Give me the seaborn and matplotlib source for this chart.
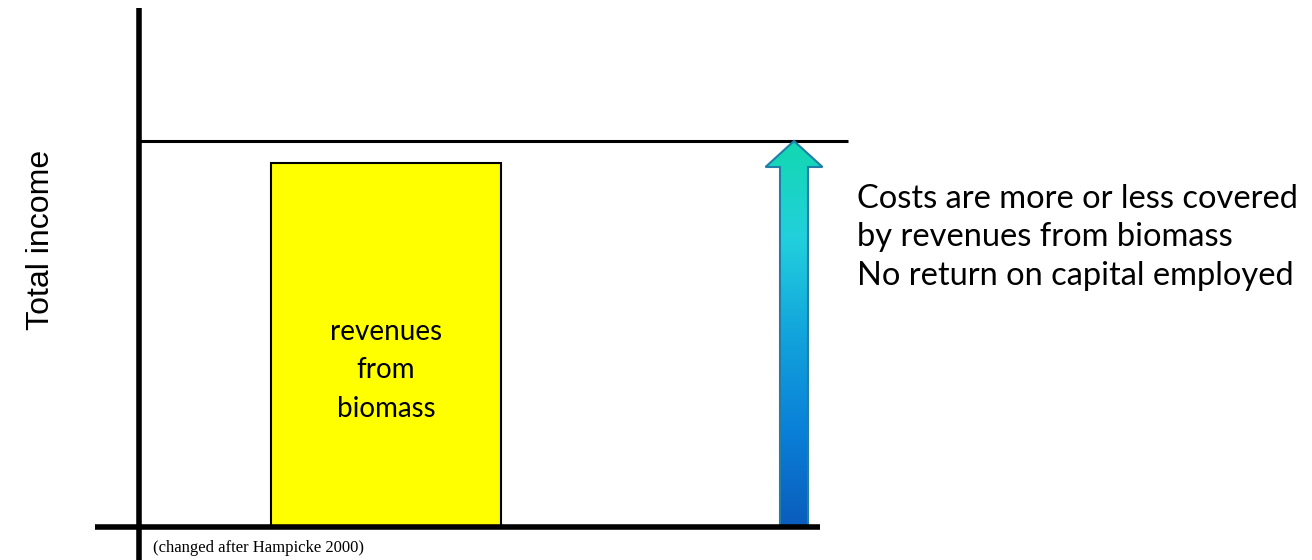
import numpy as np
import matplotlib
matplotlib.use("Agg")
import matplotlib.pyplot as plt
from matplotlib.colors import LinearSegmentedColormap
from matplotlib.patches import Polygon
import seaborn as sns

# data (income levels, baseline = 0, total costs level = 1)
bar_labels = ["revenues\nfrom\nbiomass"]
bar_x = [386]
bar_values = [0.943]
cost_level = 1.0
arrow_x = 794
arrow_value = 1.0
y_label = "Total income"
note_lines = ["Costs are more or less covered",
              "by revenues from biomass",
              "No return on capital employed"]
source = "(changed after Hampicke 2000)"

sns.set_theme(style="white")

fig = plt.figure(figsize=(13.12, 5.6), dpi=100)
ax = fig.add_axes([0, 0, 1, 1])
# pixel-like x, income y (0 at the base line, 1 at the cost line)
ax.set_xlim(0, 1312)
ax.set_ylim(-33 / 386, 527 / 386)
ax.axis("off")

# bar
sns.barplot(x=bar_x, y=bar_values, native_scale=True, width=230,
            color="#ffff00", saturation=1, edgecolor="black", linewidth=1.5,
            ax=ax)
for x, v, lab in zip(bar_x, bar_values, bar_labels):
    ax.text(x, v * 0.43, lab, ha="center", va="center", fontsize=20,
            family="Lato", linespacing=1.58, color="black")

# axes lines
ax.plot([138.5, 138.5], [-0.09, 1.345], color="black", lw=4, solid_capstyle="butt")
ax.plot([95, 820], [0, 0], color="black", lw=4, solid_capstyle="butt", zorder=5)
ax.plot([140, 848], [cost_level, cost_level], color="black", lw=2.2, solid_capstyle="butt")

# gradient arrow
shaft_w, head_w, head_h = 28, 57, 26 / 386
top = arrow_value
verts = [(arrow_x - shaft_w / 2, 0), (arrow_x - shaft_w / 2, top - head_h),
         (arrow_x - head_w / 2, top - head_h), (arrow_x, top),
         (arrow_x + head_w / 2, top - head_h), (arrow_x + shaft_w / 2, top - head_h),
         (arrow_x + shaft_w / 2, 0)]
cmap = LinearSegmentedColormap.from_list(
    "arr", ["#0a5cbc", "#0a80d8", "#12a4dc", "#22d0dc", "#12d8b0"])
grad = np.linspace(0, 1, 256).reshape(-1, 1)
im = ax.imshow(grad, cmap=cmap, origin="lower", aspect="auto",
               extent=[arrow_x - head_w / 2, arrow_x + head_w / 2, 0, top], zorder=3)
poly = Polygon(verts, closed=True, facecolor="none", edgecolor="#1f7fa8", lw=1.5, zorder=4)
ax.add_patch(poly)
im.set_clip_path(poly)
ax.set_xlim(0, 1312)
ax.set_ylim(-33 / 386, 527 / 386)

# texts
ax.text(41, (527 - 240) / 386, y_label, rotation=90, ha="center", va="center",
        fontsize=23, family="Liberation Sans", color="black")
for i, line in enumerate(note_lines):
    ax.text(857, (527 - 199 - i * 38.5) / 386, line, ha="left", va="center",
            fontsize=23.5, family="Lato", color="black")
ax.text(153, (527 - 548) / 386, source, ha="left", va="center", fontsize=12,
        family="Liberation Serif", color="black")

fig.savefig("out.png", dpi=100)
